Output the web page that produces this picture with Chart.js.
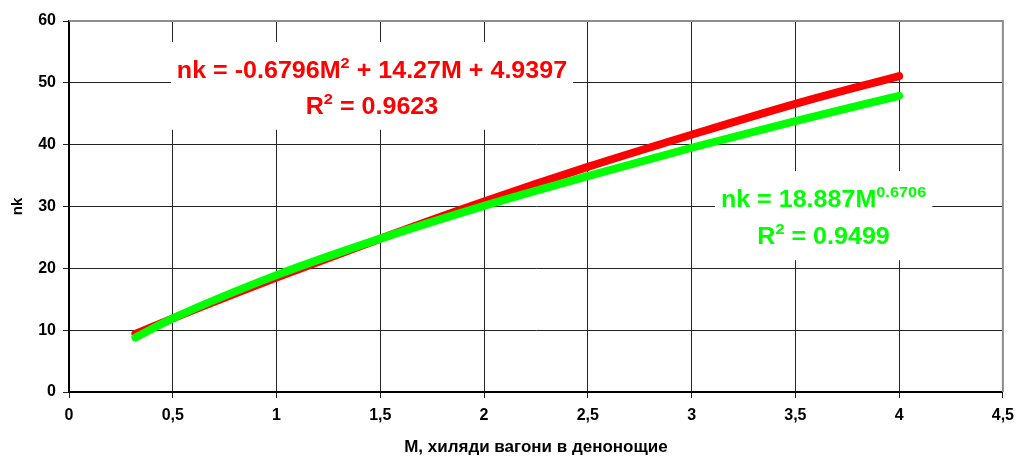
<!DOCTYPE html>
<html>
<head>
<meta charset="utf-8">
<script src="https://cdn.jsdelivr.net/npm/chart.js@4"></script>
<style>
  body { margin: 0; background: #fff; }
  canvas { display: block; }
</style>
</head>
<body>
<canvas id="chartNk" width="1022" height="456"></canvas>
<script>
// Стойности отчетени от графиката
const xValues = [0.32, 0.5, 1, 1.5, 2, 2.5, 3, 3.5, 4];
const polyValues = [9.4, 11.9, 18.5, 24.8, 30.8, 36.4, 41.6, 46.6, 51.1];   // червена крива
const powerValues = [8.8, 11.9, 18.9, 24.8, 30.1, 34.9, 39.5, 43.8, 47.9]; // зелена крива

const xTitle = 'М, хиляди вагони в денонощие';
const yTitle = 'nk';

// Надписи на трендовете: [текст, горен индекс?]
const polyLabel = { parts: [['nk = -0.6796M', false], ['2', true], [' + 14.27M + 4.9397', false]], r2: '0.9623', color: '#ff0000', x: 1.46, y1: 50.8, y2: 45.0 };
const powerLabel = { parts: [['nk = 18.887M', false], ['0.6706', true]], r2: '0.9499', color: '#00ff00', x: 3.636, y1: 29.9, y2: 23.9 };

const FONT = 'Arial, "Liberation Sans", sans-serif';
const STRETCH = 1.09;

function toPoints(xs, ys) {
    return xs.map((x, i) => ({ x: x, y: ys[i] }));
}

function setFont(ctx, sup) {
    ctx.font = sup ? 'bold 15px ' + FONT : 'bold 23px ' + FONT;
}

function partWidth(ctx, parts) {
    let w = 0;
    parts.forEach(p => {
        setFont(ctx, p[1]);
        w += ctx.measureText(p[0]).width;
    });
    return w;
}

function drawParts(ctx, parts, cx, baseline) {
    const w = partWidth(ctx, parts) * STRETCH;
    ctx.save();
    ctx.translate(cx - w / 2, baseline);
    ctx.scale(STRETCH, 1);
    let x = 0;
    parts.forEach(p => {
        setFont(ctx, p[1]);
        ctx.fillText(p[0], x, p[1] ? -10 : 0);
        x += ctx.measureText(p[0]).width;
    });
    ctx.restore();
}

// Плъгин за надписите с бял фон и сивата рамка
const trendLabels = {
    id: 'trendLabels',
    beforeDatasetsDraw(chart) {
        const ctx = chart.ctx;
        const xs = chart.scales.x, ys = chart.scales.y;
        [polyLabel, powerLabel].forEach(lab => {
            const cx = xs.getPixelForValue(lab.x);
            const b1 = ys.getPixelForValue(lab.y1);
            const b2 = ys.getPixelForValue(lab.y2);
            const line2 = [['R', false], ['2', true], [' = ' + lab.r2, false]];
            const w = Math.max(partWidth(ctx, lab.parts), partWidth(ctx, line2)) * STRETCH;
            ctx.fillStyle = '#fff';
            ctx.fillRect(cx - w / 2 - 6, b1 - 36, w + 12, b2 - b1 + 52);
            ctx.fillStyle = lab.color;
            ctx.textBaseline = 'alphabetic';
            ctx.textAlign = 'left';
            drawParts(ctx, lab.parts, cx, b1);
            drawParts(ctx, line2, cx, b2);
        });
    },
    afterDraw(chart) {
        const a = chart.chartArea;
        const ctx = chart.ctx;
        ctx.save();
        ctx.strokeStyle = '#8c8c8c';
        ctx.lineWidth = 2;
        ctx.beginPath();
        ctx.moveTo(a.left, a.top);
        ctx.lineTo(a.right, a.top);
        ctx.lineTo(a.right, a.bottom);
        ctx.stroke();
        ctx.restore();
    }
};

function plotNk(canvasId) {
    const ctx = document.getElementById(canvasId).getContext('2d');
    new Chart(ctx, {
        type: 'line',
        data: {
            datasets: [{
                label: 'power',
                data: toPoints(xValues, powerValues),
                borderColor: '#00ff00',
                borderWidth: 8,
                borderCapStyle: 'round',
                borderJoinStyle: 'round',
                pointRadius: 0,
                cubicInterpolationMode: 'monotone',
                order: 0
            }, {
                label: 'poly',
                data: toPoints(xValues, polyValues),
                borderColor: '#ff0000',
                borderWidth: 8,
                borderCapStyle: 'round',
                borderJoinStyle: 'round',
                pointRadius: 0,
                cubicInterpolationMode: 'monotone',
                order: 1
            }]
        },
        options: {
            responsive: false,
            animation: false,
            devicePixelRatio: 1,
            layout: { padding: { top: 21, right: 13, left: 0, bottom: 0 } },
            plugins: { legend: { display: false }, tooltip: { enabled: false } },
            scales: {
                x: {
                    type: 'linear',
                    min: 0,
                    max: 4.5,
                    afterFit: s => { s.height = 64; },
                    ticks: {
                        stepSize: 0.5,
                        color: '#000',
                        padding: 8,
                        maxRotation: 0,
                        font: { family: FONT, size: 16, weight: 'bold' },
                        callback: v => String(v).replace('.', ',')
                    },
                    grid: { color: '#222', lineWidth: 1, tickLength: 6 },
                    border: { color: '#000', width: 2 },
                    title: {
                        display: true,
                        text: xTitle,
                        color: '#000',
                        font: { family: FONT, size: 17, weight: 'bold', lineHeight: 1 },
                        padding: { top: 0, bottom: 0 }
                    }
                },
                y: {
                    min: 0,
                    max: 60,
                    afterFit: s => { s.width = 69; },
                    ticks: {
                        stepSize: 10,
                        color: '#000',
                        padding: 7,
                        font: { family: FONT, size: 16, weight: 'bold' }
                    },
                    grid: { color: '#222', lineWidth: 1, tickLength: 6 },
                    border: { color: '#000', width: 2 },
                    title: {
                        display: true,
                        text: yTitle,
                        color: '#000',
                        font: { family: FONT, size: 15, weight: 'bold' },
                        padding: { top: 9, bottom: 0 }
                    }
                }
            }
        },
        plugins: [trendLabels]
    });
}

plotNk('chartNk');
</script>
</body>
</html>
